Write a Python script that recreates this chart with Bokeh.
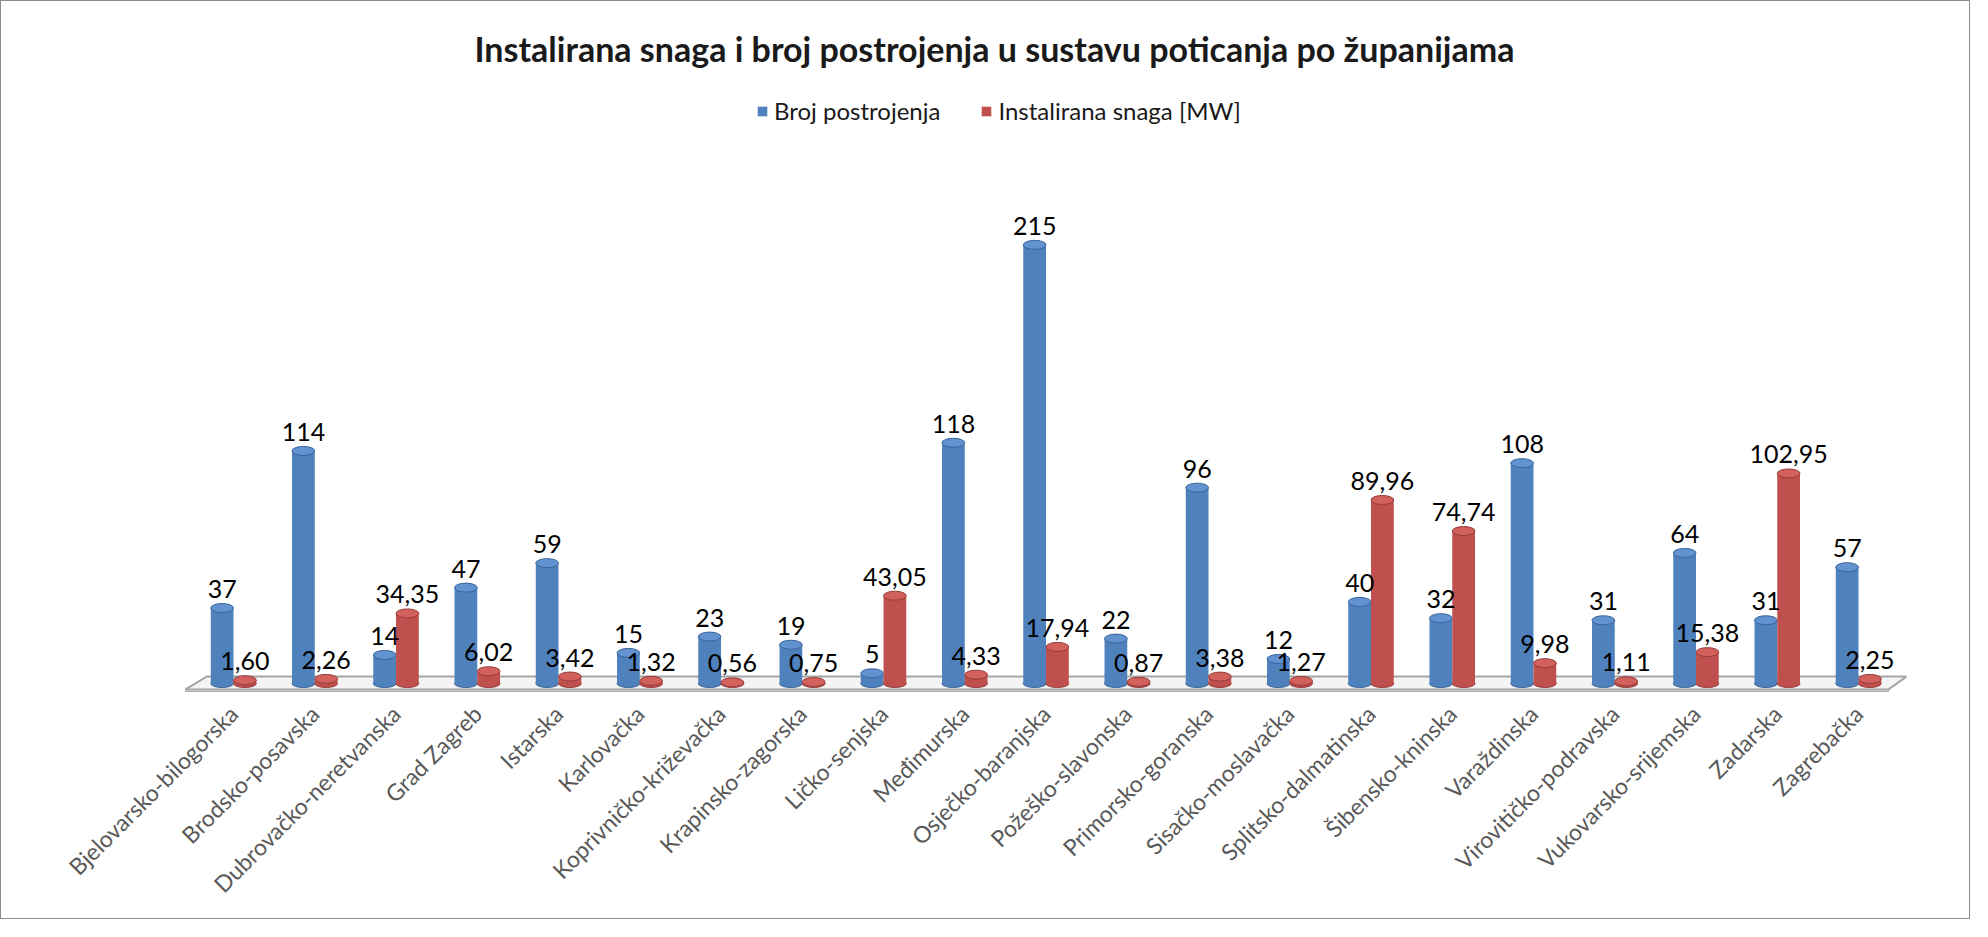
import numpy as np
from bokeh.plotting import figure
from bokeh.models import FixedTicker, Legend, LegendItem, ColumnDataSource
from bokeh.core.properties import value
from bokeh.embed import file_html
from bokeh.resources import INLINE

categories = [
    "Bjelovarsko-bilogorska", "Brodsko-posavska", "Dubrovačko-neretvanska",
    "Grad Zagreb", "Istarska", "Karlovačka", "Koprivničko-križevačka",
    "Krapinsko-zagorska", "Ličko-senjska", "Međimurska", "Osječko-baranjska",
    "Požeško-slavonska", "Primorsko-goranska", "Sisačko-moslavačka",
    "Splitsko-dalmatinska", "Šibensko-kninska", "Varaždinska",
    "Virovitičko-podravska", "Vukovarsko-srijemska", "Zadarska", "Zagrebačka",
]
broj_postrojenja = [37, 114, 14, 47, 59, 15, 23, 19, 5, 118, 215, 22, 96, 12,
                    40, 32, 108, 31, 64, 31, 57]
instalirana_snaga = [1.60, 2.26, 34.35, 6.02, 3.42, 1.32, 0.56, 0.75, 43.05,
                     4.33, 17.94, 0.87, 3.38, 1.27, 89.96, 74.74, 9.98, 1.11,
                     15.38, 102.95, 2.25]
series_names = ["Broj postrojenja", "Instalirana snaga [MW]"]
title_text = "Instalirana snaga i broj postrojenja u sustavu poticanja po županijama"

n = len(categories)
idx = np.arange(n)
bw = 0.28
half = bw / 2

BLUE, BLUE_LINE, BLUE_TOP = "#4f81bd", "#3a6599", "#6293d0"
RED, RED_LINE, RED_TOP = "#c0504d", "#963c3a", "#d2605d"

src_b = ColumnDataSource(dict(
    x=idx - half, top=broj_postrojenja,
    lab=[str(v) for v in broj_postrojenja], zero=[0] * n))
src_r = ColumnDataSource(dict(
    x=idx + half, top=instalirana_snaga,
    lab=[f"{v:.2f}".replace(".", ",") for v in instalirana_snaga], zero=[0] * n))

p = figure(width=1970, height=919, x_range=(-1.108, 20.8), y_range=(-4.9, 299),
           output_backend="svg", toolbar_location=None, y_axis_location=None,
           min_border_left=142, min_border_right=48, min_border_top=72,
           min_border_bottom=227)
p.styles = {"border": "1px solid #8c8c8c"}
p.grid.visible = False
p.outline_line_color = None

# floor
p.patch(x=[-0.59, -0.33, n - 1 + 0.59, n - 1 + 0.37],
        y=[-2.9, 3.4, 3.4, -2.9], fill_color="#f4f4f4",
        line_color="#a6a6a6", line_width=2)
p.patch(x=[-0.59, n - 1 + 0.37, n - 1 + 0.37, -0.59],
        y=[-2.9, -2.9, -3.9, -3.9], fill_color="#c8c8c8",
        line_color="#a6a6a6", line_width=1)

# cylinders
p.ellipse(x="x", y="zero", width=bw, height=8, height_units="screen",
          source=src_b, fill_color=BLUE, line_color=BLUE_LINE)
rb = p.vbar(x="x", top="top", width=bw, source=src_b, fill_color=BLUE,
            line_color=None)
p.ellipse(x="x", y="top", width=bw, height=9, height_units="screen",
          source=src_b, fill_color=BLUE_TOP, line_color=BLUE_LINE)

p.ellipse(x="x", y="zero", width=bw, height=8, height_units="screen",
          source=src_r, fill_color=RED, line_color=RED_LINE)
rr = p.vbar(x="x", top="top", width=bw, source=src_r, fill_color=RED,
            line_color=None)
p.ellipse(x="x", y="top", width=bw, height=9, height_units="screen",
          source=src_r, fill_color=RED_TOP, line_color=RED_LINE)

# data labels
for src in (src_b, src_r):
    p.text(x="x", y="top", text="lab", source=src, text_align="center",
           text_baseline="bottom", y_offset=-10, text_font=value("Lato"),
           text_font_size="25px", text_color="black")

# axis
p.xaxis.ticker = FixedTicker(ticks=list(range(n)))
p.xaxis.major_label_overrides = {i: c for i, c in enumerate(categories)}
p.xaxis.major_label_orientation = np.pi / 4
p.xaxis.major_label_text_font = "Lato"
p.xaxis.major_label_text_font_size = "23px"
p.xaxis.major_label_text_color = "#595959"
p.xaxis.major_label_standoff = 16
p.xaxis.major_tick_out = 0
p.xaxis.major_tick_in = 0
p.xaxis.minor_tick_out = 0
p.xaxis.minor_tick_in = 0
p.xaxis.axis_line_color = None
p.xaxis.major_tick_line_color = None
p.xaxis.minor_tick_line_color = None

# title
p.title.text = title_text
p.title.text_font = "Lato"
p.title.text_font_size = "34px"
p.title.text_font_style = "bold"
p.title.text_color = "#1a1a1a"
p.title.align = "left"
p.title.offset = 331

# legend
legend = Legend(items=[LegendItem(label=series_names[0], renderers=[rb]),
                       LegendItem(label=series_names[1], renderers=[rr])],
                orientation="horizontal", location=(613, 568),
                glyph_width=12, glyph_height=12, label_standoff=6, spacing=40,
                padding=5, border_line_color=None, background_fill_alpha=0,
                label_text_font="Lato", label_text_font_size="24px",
                label_text_color="#1a1a1a")
p.add_layout(legend)

open("out.html", "w").write(file_html(p, INLINE))
